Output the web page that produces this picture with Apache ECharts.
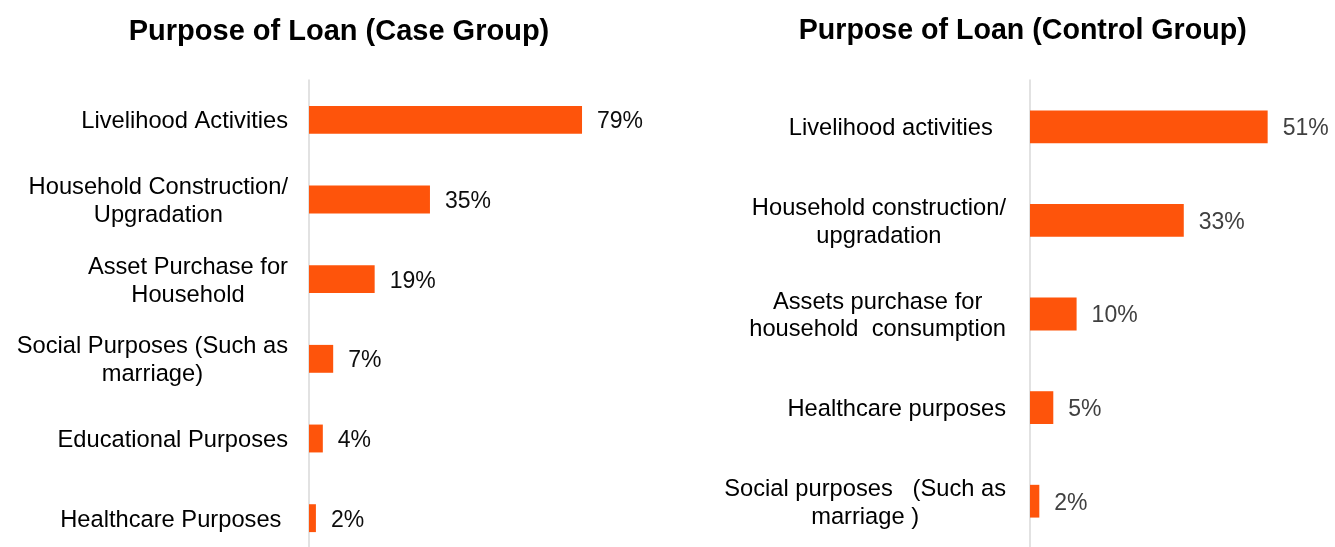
<!DOCTYPE html>
<html>
<head>
<meta charset="utf-8">
<title>Purpose of Loan</title>
<script src="https://cdn.jsdelivr.net/npm/echarts@6/dist/echarts.min.js"></script>
<style>
  html, body { margin: 0; padding: 0; background: #ffffff; }
  #chart { width: 1335px; height: 547px; }
</style>
</head>
<body>
<div id="chart"></div>
<script>
// Case group: share of borrowers by loan purpose (%)
const caseTitle = 'Purpose of Loan (Case Group)';
const caseCategories = [
  'Livelihood Activities',
  'Household Construction/\nUpgradation',
  'Asset Purchase for\nHousehold',
  'Social Purposes (Such as\nmarriage)',
  'Educational Purposes',
  'Healthcare Purposes '
];
const caseValues = [79, 35, 19, 7, 4, 2];

// Control group: share of borrowers by loan purpose (%)
const controlTitle = 'Purpose of Loan (Control Group)';
const controlCategories = [
  'Livelihood activities  ',
  'Household construction/\nupgradation',
  'Assets purchase for\nhousehold  consumption',
  'Healthcare purposes',
  'Social purposes   (Such as\nmarriage )'
];
const controlValues = [51, 33, 10, 5, 2];

const FONT = '"Liberation Sans", Arial, Helvetica, sans-serif';
const BAR_COLOR = '#FE540B';
const AXIS_COLOR = '#D9D9D9';

// each line of a category name is centred inside the right-aligned label block
function centredLines(value) {
  return value.split('\n').map(function (s) { return '{c|' + s + '}'; }).join('\n');
}

function categoryAxis(gridIndex, names, margin, lineHeight) {
  return {
    type: 'category',
    gridIndex: gridIndex,
    data: names,
    inverse: true,
    axisLine: { show: true, lineStyle: { color: AXIS_COLOR, width: 1.5 } },
    axisTick: { show: false },
    splitLine: { show: false },
    axisLabel: {
      interval: 0,
      margin: margin,
      padding: [4, 0, 0, 0],
      formatter: centredLines,
      rich: {
        c: {
          align: 'center',
          fontFamily: FONT,
          fontSize: 23.7,
          lineHeight: lineHeight,
          color: '#000000'
        }
      }
    }
  };
}

function valueAxis(gridIndex, max) {
  return {
    type: 'value',
    gridIndex: gridIndex,
    min: 0,
    max: max,
    show: false,
    splitLine: { show: false }
  };
}

function barSeries(index, values, labelColor) {
  return {
    type: 'bar',
    xAxisIndex: index,
    yAxisIndex: index,
    data: values,
    barWidth: '35%',
    itemStyle: { color: BAR_COLOR },
    label: {
      show: true,
      position: 'right',
      distance: 15,
      offset: [0, 2],
      formatter: '{c}%',
      fontFamily: FONT,
      fontSize: 23,
      color: labelColor
    },
    silent: true,
    animation: false
  };
}

const chart = echarts.init(document.getElementById('chart'), null, { renderer: 'canvas' });

chart.setOption({
  backgroundColor: '#ffffff',
  animation: false,
  title: [
    {
      text: caseTitle,
      left: 339, top: 31.5, padding: 0,
      textAlign: 'center', textVerticalAlign: 'middle',
      textStyle: { fontFamily: FONT, fontWeight: 'bold', fontSize: 29, color: '#000000' }
    },
    {
      text: controlTitle,
      left: 1022.7, top: 31.5, padding: 0,
      textAlign: 'center', textVerticalAlign: 'middle',
      textStyle: { fontFamily: FONT, fontWeight: 'bold', fontSize: 28.6, color: '#000000' }
    }
  ],
  grid: [
    { left: 309, top: 80, width: 345.6, height: 478, containLabel: false, outerBoundsMode: 'none' },
    { left: 1030, top: 80, width: 279.6, height: 468, containLabel: false, outerBoundsMode: 'none' }
  ],
  xAxis: [valueAxis(0, 100), valueAxis(1, 60)],
  yAxis: [
    categoryAxis(0, caseCategories, 21, 28),
    categoryAxis(1, controlCategories, 24, 27.6)
  ],
  series: [
    barSeries(0, caseValues, '#0D0D0D'),
    barSeries(1, controlValues, '#404040')
  ]
});
</script>
</body>
</html>
